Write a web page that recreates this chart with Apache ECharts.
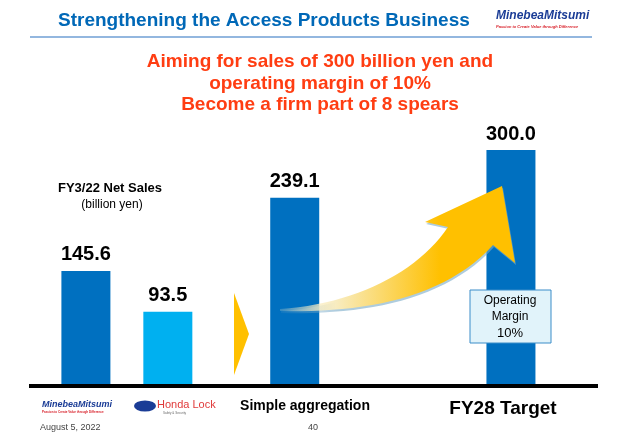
<!DOCTYPE html>
<html><head><meta charset="utf-8">
<script src="https://cdn.jsdelivr.net/npm/echarts@6/dist/echarts.min.js"></script>
<style>html,body{margin:0;padding:0;background:#fff}#c{width:621px;height:438px}</style>
</head><body><div id="c"></div>
<script>
// bar data
var barNames = ['MinebeaMitsumi', 'Honda Lock', 'Simple aggregation', 'FY28 Target'];
var barPos = [10, 24.4, 46.7, 84.7];   // position along the slide (0-100)
var barValues = [145.6, 93.5, 239.1, 300.0];
var barColors = ['#0070c0', '#00b0f0', '#0070c0', '#0070c0'];

var chart = echarts.init(document.getElementById('c'));
var seriesData = [];
for (var i = 0; i < barValues.length; i++) {
  seriesData.push({name: barNames[i], value: [barPos[i], barValues[i]], itemStyle: {color: barColors[i]}});
}
var F = 'Liberation Sans, Arial, sans-serif';
function txt(x, y, s, font, fill, align, z) {
  return {type: 'text', z: z || 1, x: x, y: y, style: {text: s, fill: fill, font: font + ' ' + F, align: align || 'left', verticalAlign: 'middle'}};
}
// cubic bezier sampled into points (for the decorative arrow)
function bez(p0, p1, p2, p3, n) {
  var out = [];
  for (var k = 0; k <= n; k++) {
    var t = k / n, u = 1 - t;
    out.push([u*u*u*p0[0] + 3*u*u*t*p1[0] + 3*u*t*t*p2[0] + t*t*t*p3[0],
              u*u*u*p0[1] + 3*u*u*t*p1[1] + 3*u*t*t*p2[1] + t*t*t*p3[1]]);
  }
  return out;
}
var arrowPts = bez([280, 309], [355, 304], [418, 272], [448, 227], 24)
  .concat([[425, 222], [502, 186], [515, 263]])
  .concat(bez([493, 245], [445, 298], [365, 313], [280, 311], 24));

var option = {
  animation: false,
  grid: {left: 29, right: 23, top: 150, bottom: 53},
  xAxis: {type: 'value', min: 0, max: 100, show: false},
  yAxis: {type: 'value', min: 0, max: 300, show: false},
  series: [{
    type: 'bar', barWidth: 49, data: seriesData,
    label: {show: true, position: 'top', distance: 6, color: '#000', fontFamily: F, fontWeight: 'bold', fontSize: 20,
      formatter: function (p) { return p.value[1].toFixed(1); }}
  }],
  graphic: [
    txt(58, 21, 'Strengthening the Access Products Business', 'bold 19px', '#0068b7'),
    {type: 'line', shape: {x1: 30, y1: 37, x2: 592, y2: 37}, style: {stroke: '#6f9fd4', lineWidth: 1.5}},
    txt(496, 16, 'MinebeaMitsumi', 'italic bold 12px', '#1a3c96'),
    txt(496, 27, 'Passion to Create Value through Difference', 'italic bold 4px', '#d8202a'),
    txt(320, 62, 'Aiming for sales of 300 billion yen and', 'bold 19px', '#ff3d12', 'center'),
    txt(320, 84, 'operating margin of 10%', 'bold 19px', '#ff3d12', 'center'),
    txt(320, 105, 'Become a firm part of 8 spears', 'bold 19px', '#ff3d12', 'center'),
    txt(110, 188, 'FY3/22 Net Sales', 'bold 13px', '#000', 'center'),
    txt(112, 205, '(billion yen)', '12px', '#000', 'center'),
    {type: 'polygon', z: 5, shape: {points: arrowPts},
      style: {shadowColor: 'rgba(120,170,200,0.6)', shadowOffsetY: 2, shadowOffsetX: 1,
        fill: new echarts.graphic.LinearGradient(280, 0, 440, 0, [{offset: 0, color: 'rgba(255,240,200,0.2)'}, {offset: 0.35, color: '#f8ecc0'}, {offset: 1, color: '#ffc000'}], true)}},
    {type: 'polygon', shape: {points: [[234, 293], [249, 334], [234, 375]]}, style: {fill: '#ffc000'}},
    {type: 'rect', z: 10, shape: {x: 470, y: 290, width: 81, height: 53}, style: {fill: '#e1f3fa', stroke: '#3b8dc9', lineWidth: 1}},
    txt(510, 301, 'Operating', '12px', '#000', 'center', 11),
    txt(510, 317, 'Margin', '12px', '#000', 'center', 11),
    txt(510, 333, '10%', '13px', '#000', 'center', 11),
    {type: 'line', z: 12, shape: {x1: 29, y1: 386, x2: 598, y2: 386}, style: {stroke: '#000', lineWidth: 4}},
    txt(42, 405, 'MinebeaMitsumi', 'italic bold 9px', '#1a3c96'),
    txt(42, 412, 'Passion to Create Value through Difference', 'bold 3px', '#d8202a'),
    {type: 'circle', x: 145, y: 406, scaleY: 0.5, shape: {cx: 0, cy: 0, r: 11}, style: {fill: '#1a3c96'}},
    txt(157, 405, 'Honda Lock', '11px', '#e03a3a'),
    txt(163, 413, 'Safety & Security', '3px', '#666'),
    txt(305, 406, 'Simple aggregation', 'bold 14px', '#000', 'center'),
    txt(503, 409, 'FY28 Target', 'bold 19px', '#000', 'center'),
    txt(40, 428, 'August 5, 2022', '9px', '#444'),
    txt(313, 428, '40', '9px', '#444', 'center')
  ]
};
chart.setOption(option);
</script></body></html>
